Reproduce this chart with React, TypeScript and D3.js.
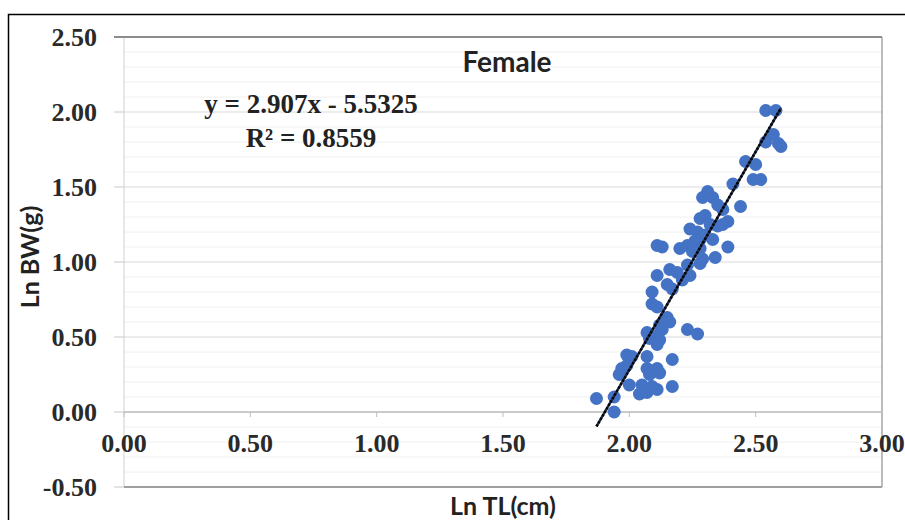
import React from "react";
import * as d3 from "d3";

// Ln total length (cm) vs Ln body weight (g), female
const lnTL = [
  2.54, 2.58, 2.57, 2.60, 2.59, 2.54, 2.46, 2.50, 2.49, 2.52, 2.41, 2.44,
  2.29, 2.33, 2.31, 2.35, 2.37, 2.39, 2.37, 2.28, 2.30, 2.24, 2.27, 2.28,
  2.30, 2.33, 2.39, 2.13, 2.11, 2.20, 2.23, 2.25, 2.28, 2.29, 2.34, 2.28,
  2.16, 2.19, 2.23, 2.24, 2.21, 2.11, 2.15, 2.17, 2.09, 2.09, 2.11, 2.15,
  2.16, 2.12, 2.07, 2.11, 2.13, 2.23, 2.27, 2.11, 2.08, 2.12, 1.99, 2.01,
  2.07, 2.17, 1.97, 1.99, 1.96, 2.07, 2.11, 2.08, 2.12, 2.00, 2.05, 2.09,
  2.04, 2.07, 2.11, 2.17, 1.87, 1.94, 1.94, 2.32, 2.26, 2.35,
];
const lnBW = [
  2.01, 2.01, 1.85, 1.77, 1.79, 1.80, 1.67, 1.65, 1.55, 1.55, 1.52, 1.37,
  1.43, 1.43, 1.47, 1.38, 1.35, 1.27, 1.25, 1.29, 1.31, 1.22, 1.20, 1.15,
  1.18, 1.15, 1.10, 1.10, 1.11, 1.09, 1.11, 1.07, 1.09, 1.02, 1.03, 0.99,
  0.95, 0.93, 0.98, 0.91, 0.88, 0.91, 0.85, 0.82, 0.80, 0.72, 0.70, 0.63,
  0.60, 0.58, 0.53, 0.51, 0.55, 0.55, 0.52, 0.45, 0.49, 0.48, 0.38, 0.37,
  0.37, 0.35, 0.29, 0.31, 0.25, 0.29, 0.29, 0.25, 0.26, 0.18, 0.18, 0.17,
  0.12, 0.13, 0.15, 0.17, 0.09, 0.10, 0.00, 1.25, 1.14, 1.24,
];
const xTicks = [0, 0.5, 1, 1.5, 2, 2.5, 3];
const yTicks = [-0.5, 0, 0.5, 1, 1.5, 2, 2.5];
const slope = 2.907, intercept = -5.5325;
const trendRange = [1.87, 2.6];

export default function App() {
  const x = d3.scaleLinear().domain([0, 3]).range([124, 882]);
  const y = d3.scaleLinear().domain([-0.5, 2.5]).range([487, 37]);
  const minor = d3.range(-0.4, 2.5, 0.1).filter(v => Math.abs(v * 2 - Math.round(v * 2)) > 0.01);
  const trend = d3.line<number>().x(d => x(d)).y(d => y(slope * d + intercept));
  const serif = "'Liberation Serif', 'Times New Roman', serif";
  const sans = "Lato, 'Open Sans', sans-serif";

  return (
    <svg width={905} height={520} style={{ position: "absolute", left: 0, top: 0, background: "#fff" }}>
      <rect x={8.5} y={14.5} width={905} height={520} fill="none" stroke="#000" strokeWidth={1.5} />

      {/* gridlines */}
      {minor.map(v => (
        <line key={"m" + v} x1={x(0)} x2={x(3)} y1={y(v)} y2={y(v)} stroke="#f0f0f0" />
      ))}
      {yTicks.map(v => (
        <line key={"g" + v} x1={x(0)} x2={x(3)} y1={y(v)} y2={y(v)} stroke="#d9d9d9" />
      ))}
      {yTicks.map(v => (
        <line key={"t" + v} x1={x(0) - 10} x2={x(0)} y1={y(v)} y2={y(v)} stroke="#c8c8c8" />
      ))}
      {/* plot border */}
      <line x1={x(0)} x2={x(0)} y1={y(2.5)} y2={y(-0.5)} stroke="#d0d0d0" />
      <line x1={x(3)} x2={x(3)} y1={y(2.5)} y2={y(-0.5)} stroke="#a6a6a6" strokeWidth={1.5} />
      <line x1={x(0) - 10} x2={x(3)} y1={y(2.5)} y2={y(2.5)} stroke="#8c8c8c" strokeWidth={2} />
      <line x1={x(0)} x2={x(3)} y1={y(-0.5)} y2={y(-0.5)} stroke="#a0a0a0" strokeWidth={2} />
      {/* zero axis */}
      <line x1={x(0)} x2={x(3)} y1={y(0)} y2={y(0)} stroke="#bfbfbf" strokeWidth={1.5} />
      {xTicks.map(v => (
        <line key={"xt" + v} x1={x(v)} x2={x(v)} y1={y(0)} y2={y(0) + 5} stroke="#bfbfbf" />
      ))}

      {/* tick labels */}
      {yTicks.map(v => (
        <text key={"yl" + v} x={97} y={y(v)} dy="0.35em" textAnchor="end"
          fontFamily={serif} fontWeight="bold" fontSize={26} fill="#2a2a2a">
          {v.toFixed(2)}
        </text>
      ))}
      {xTicks.map(v => (
        <text key={"xl" + v} x={x(v)} y={y(0) + 31} dy="0.35em" textAnchor="middle"
          fontFamily={serif} fontWeight="bold" fontSize={26} fill="#2a2a2a">
          {v.toFixed(2)}
        </text>
      ))}

      {/* points */}
      {lnTL.map((v, i) => (
        <circle key={"p" + i} cx={x(v)} cy={y(lnBW[i])} r={6.5} fill="#4472C4" />
      ))}

      {/* trendline */}
      <path d={trend(trendRange) || ""} fill="none" stroke="#1f2a44" strokeWidth={2.5} />
      <path d={trend(trendRange) || ""} fill="none" stroke="#000" strokeWidth={2.5} strokeDasharray="2,2" />

      {/* titles */}
      <text x={507} y={72} textAnchor="middle" fontFamily={sans} fontWeight="bold" fontSize={28} fill="#222">Female</text>
      <text x={311} y={113} textAnchor="middle" fontFamily={serif} fontWeight="bold" fontSize={27} fill="#222">y = 2.907x - 5.5325</text>
      <text x={311} y={147} textAnchor="middle" fontFamily={serif} fontWeight="bold" fontSize={27} fill="#222">R² = 0.8559</text>
      <text transform="translate(39,257) rotate(-90)" textAnchor="middle" fontFamily={sans} fontWeight="bold" fontSize={25} fill="#222">Ln BW(g)</text>
      <text x={503} y={515} textAnchor="middle" fontFamily={sans} fontWeight="bold" fontSize={25} fill="#222">Ln TL(cm)</text>
    </svg>
  );
}
